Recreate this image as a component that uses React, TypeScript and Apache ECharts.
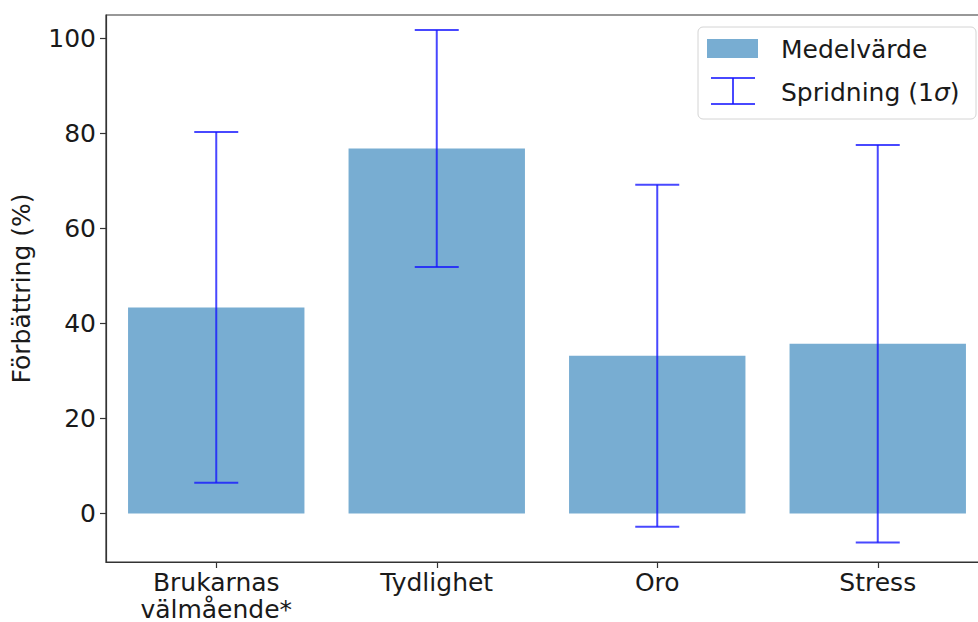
import React, { useEffect, useRef } from "react";
import * as echarts from "echarts";

const categories = ["Brukarnas\nvälmående*", "Tydlighet", "Oro", "Stress"];
const means = [43.4, 76.85, 33.2, 35.75];
const sigmas = [36.9, 24.95, 36.0, 41.85];
const yTicks = [0, 20, 40, 60, 80, 100];
const legendBar = "Medelvärde";
const legendErr = "Spridning (1";

const FONT = "DejaVu Sans";
const FS = 25;
const BAR_COLOR = "#78add2";
const ERR_COLOR = "rgba(20,20,255,0.78)";
const TXT = "#1a1a1a";

export default function App() {
  const ref = useRef<HTMLDivElement>(null);
  useEffect(() => {
    document.body.style.margin = "0";
    document.body.style.overflow = "hidden";
    if (!ref.current) return;
    const chart = echarts.init(ref.current, undefined, { renderer: "svg" });
    const errData = means.map((m, i) => [i, m - sigmas[i], m + sigmas[i]]);
    chart.setOption({
      animation: false,
      backgroundColor: "#ffffff",
      textStyle: { fontFamily: FONT },
      grid: {
        left: 106,
        top: 15,
        width: 882,
        height: 547,
        outerBoundsMode: "none",
        containLabel: false,
        show: true,
        borderColor: "#333",
        borderWidth: 1.2,
        backgroundColor: "#fff",
      },
      xAxis: {
        type: "category",
        data: categories,
        boundaryGap: true,
        axisLine: { show: true, onZero: false, lineStyle: { color: "#333", width: 1.2 } },
        axisTick: { show: true, alignWithLabel: true, length: 6, lineStyle: { color: "#333", width: 1.2 } },
        axisLabel: { color: TXT, fontSize: FS, fontFamily: FONT, margin: 7, lineHeight: 27, interval: 0 },
        splitLine: { show: false },
      },
      yAxis: {
        type: "value",
        min: -10.2,
        max: 104.95,
        name: "Förbättring (%)",
        nameLocation: "middle",
        nameGap: 72,
        nameTextStyle: { color: TXT, fontSize: FS, fontFamily: FONT },
        axisLine: { show: true, onZero: false, lineStyle: { color: "#333", width: 1.2 } },
        axisTick: { show: true, length: 6, customValues: yTicks, lineStyle: { color: "#333", width: 1.2 } },
        axisLabel: { color: TXT, fontSize: FS, fontFamily: FONT, margin: 10, customValues: yTicks },
        splitLine: { show: false },
      },
      series: [
        {
          name: legendBar,
          type: "bar",
          data: means,
          barWidth: "80%",
          itemStyle: { color: BAR_COLOR },
          z: 2,
        },
        {
          name: "Spridning (1σ)",
          type: "custom",
          data: errData,
          encode: { x: 0, y: [1, 2] },
          z: 3,
          renderItem: (params: any, api: any) => {
            const x = api.value(0);
            const lo = api.coord([x, api.value(1)]);
            const hi = api.coord([x, api.value(2)]);
            const cap = 22;
            const style = { stroke: ERR_COLOR, lineWidth: 2 };
            return {
              type: "group",
              children: [
                { type: "line", shape: { x1: lo[0], y1: lo[1], x2: hi[0], y2: hi[1] }, style },
                { type: "line", shape: { x1: hi[0] - cap, y1: hi[1], x2: hi[0] + cap, y2: hi[1] }, style },
                { type: "line", shape: { x1: lo[0] - cap, y1: lo[1], x2: lo[0] + cap, y2: lo[1] }, style },
              ],
            };
          },
        },
      ],
      graphic: [
        {
          type: "group",
          z: 100,
          children: [
            {
              type: "rect",
              shape: { x: 698, y: 27, width: 278, height: 92, r: 5 },
              style: { fill: "rgba(255,255,255,0.85)", stroke: "#d4d4d4", lineWidth: 1 },
            },
            {
              type: "rect",
              shape: { x: 707, y: 39, width: 51, height: 19 },
              style: { fill: BAR_COLOR },
            },
            { type: "line", shape: { x1: 733, y1: 78, x2: 733, y2: 104 }, style: { stroke: ERR_COLOR, lineWidth: 2 } },
            { type: "line", shape: { x1: 711, y1: 78, x2: 755, y2: 78 }, style: { stroke: ERR_COLOR, lineWidth: 2 } },
            { type: "line", shape: { x1: 711, y1: 104, x2: 755, y2: 104 }, style: { stroke: ERR_COLOR, lineWidth: 2 } },
            {
              type: "text",
              x: 781,
              y: 49,
              style: { text: legendBar, fill: TXT, fontSize: FS, fontFamily: FONT, verticalAlign: "middle" },
            },
            {
              type: "text",
              x: 781,
              y: 92,
              style: {
                text: "{n|" + legendErr + "}{s|σ}{n|)}",
                fill: TXT,
                fontSize: FS,
                fontFamily: FONT,
                verticalAlign: "middle",
                rich: {
                  n: { fontSize: FS, fontFamily: FONT, fill: TXT },
                  s: { fontSize: FS, fontFamily: FONT, fontStyle: "italic", fill: TXT },
                },
              },
            },
          ],
        },
      ],
    });
    return () => chart.dispose();
  }, []);
  return <div ref={ref} style={{ width: 978, height: 622 }} />;
}
